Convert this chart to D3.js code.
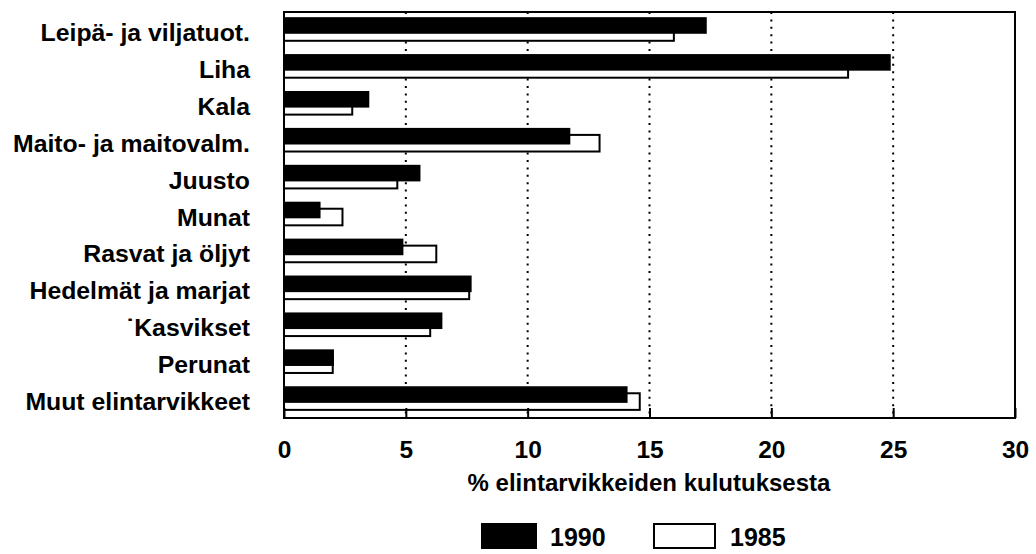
<!DOCTYPE html>
<html lang="fi">
<head>
    <meta charset="UTF-8">
    <title>Elintarvikkeiden kulutus</title>
    <script src="https://d3js.org/d3.v7.min.js"></script>
    <style>
        body { margin: 0; background: #fff; }
        svg { display: block; font-family: "Liberation Sans", Arial, sans-serif; font-weight: bold; }
        .axis path { display: none; }
        .axis line { stroke: #000; stroke-width: 2; }
        .axis text { font-size: 24.5px; fill: #000; }
    </style>
</head>
<body>
<svg width="1036" height="554"></svg>

<script>

    var categories = ['Leipä- ja viljatuot.', 'Liha', 'Kala', 'Maito- ja maitovalm.', 'Juusto', 'Munat',
        'Rasvat ja öljyt', 'Hedelmät ja marjat', '\u02D9Kasvikset', 'Perunat', 'Muut elintarvikkeet'];
    var values1990 = [17.35, 24.9, 3.5, 11.75, 5.6, 1.5, 4.9, 7.7, 6.5, 2.05, 14.1];
    var values1985 = [16.0, 23.15, 2.8, 12.95, 4.65, 2.4, 6.25, 7.6, 6.0, 2.0, 14.6];
    var xTicks = [0, 5, 10, 15, 20, 25, 30];
    var gridTicks = [5, 10, 15, 20, 25];
    var seriesNames = ['1990', '1985'];

    var svg = d3.select('svg');

    var x = d3.scaleLinear()
            .domain([0, 30])
            .range([284, 1015]);

    var y = d3.scaleBand()
            .domain(categories)
            .range([12, 418]);

    var bw = y.bandwidth();
    var barH = bw * 0.45;

    // dotted grid
    svg.append('g')
            .selectAll('line')
            .data(gridTicks)
            .enter().append('line')
            .attr('x1', d => x(d)).attr('x2', d => x(d))
            .attr('y1', 12).attr('y2', 418)
            .attr('stroke', '#000')
            .attr('stroke-width', 2)
            .attr('stroke-dasharray', '2,5.4');

    // 1985 (white, behind)
    svg.append('g')
            .selectAll('rect')
            .data(values1985)
            .enter().append('rect')
            .attr('x', x(0))
            .attr('y', (d, i) => y(categories[i]) + bw * 0.33)
            .attr('width', d => x(d) - x(0))
            .attr('height', barH)
            .attr('fill', '#fff')
            .attr('stroke', '#000')
            .attr('stroke-width', 2);

    // 1990 (black, front)
    svg.append('g')
            .selectAll('rect')
            .data(values1990)
            .enter().append('rect')
            .attr('x', x(0))
            .attr('y', (d, i) => y(categories[i]) + bw * 0.14)
            .attr('width', d => x(d) - x(0))
            .attr('height', barH)
            .attr('fill', '#000');

    // frame
    svg.append('rect')
            .attr('x', x(0)).attr('y', 12)
            .attr('width', x(30) - x(0)).attr('height', 406)
            .attr('fill', 'none')
            .attr('stroke', '#000')
            .attr('stroke-width', 2);

    var xAxis = d3.axisBottom(x)
            .tickValues(xTicks)
            .tickSize(-10)
            .tickPadding(22.5);

    svg.append('g')
            .attr('class', 'axis')
            .attr('transform', 'translate(0,418)')
            .call(xAxis);

    // category labels
    svg.append('g')
            .selectAll('text')
            .data(categories)
            .enter().append('text')
            .attr('x', 250)
            .attr('y', d => y(d) + bw / 2 + 2)
            .attr('text-anchor', 'end')
            .attr('dominant-baseline', 'central')
            .style('font-size', '24.8px')
            .text(d => d);

    svg.append('text')
            .attr('x', 649)
            .attr('y', 491)
            .attr('text-anchor', 'middle')
            .style('font-size', '24px')
            .text('% elintarvikkeiden kulutuksesta');

    // legend
    var lg = svg.append('g').selectAll('g')
            .data(seriesNames)
            .enter().append('g')
            .attr('transform', (d, i) => 'translate(' + (i ? 654 : 482) + ',524)');
    lg.append('rect')
            .attr('width', (d, i) => i ? 61 : 54)
            .attr('height', 24)
            .attr('fill', (d, i) => i ? '#fff' : '#000')
            .attr('stroke', '#000')
            .attr('stroke-width', 2);
    lg.append('text')
            .attr('x', (d, i) => i ? 76 : 68)
            .attr('y', 22)
            .style('font-size', '25px')
            .text(d => d);

</script>
</body>
</html>
